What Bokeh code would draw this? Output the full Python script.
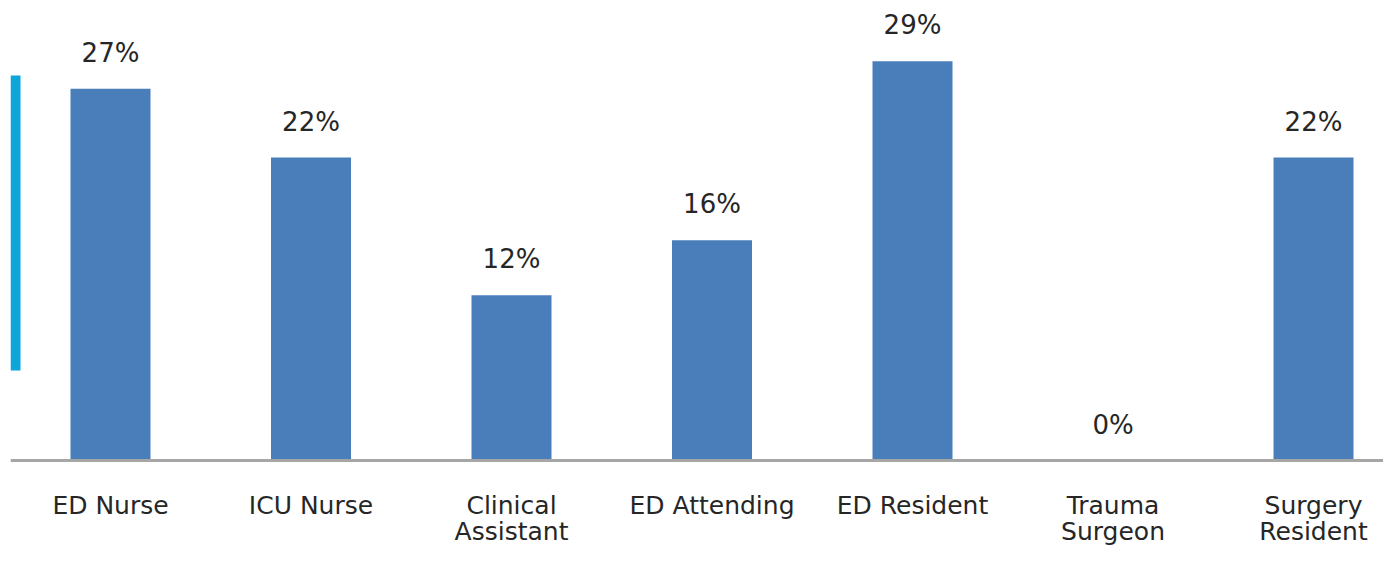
from bokeh.plotting import figure
from bokeh.models import Range1d, ColumnDataSource, Span, BoxAnnotation
from bokeh.core.properties import value
from bokeh.embed import file_html
from bokeh.resources import INLINE

categories = ["ED Nurse", "ICU Nurse", "Clinical\nAssistant", "ED Attending",
              "ED Resident", "Trauma\nSurgeon", "Surgery\nResident"]
percent_values = [27, 22, 12, 16, 29, 0, 22]
value_labels = ["27%", "22%", "12%", "16%", "29%", "0%", "22%"]

W, H = 1383, 548
PX_PER_UNIT = 13.77   # vertical pixels per percentage point
BASE_PX = 460         # canvas y of baseline
LEFT = 10             # frame left edge
STEP = 200.5          # pixels per category
X0 = 110              # pixel centre of first category

xs = list(range(len(categories)))
y_top = BASE_PX / PX_PER_UNIT
y_bot = -(H - BASE_PX) / PX_PER_UNIT

p = figure(width=W, height=H, output_backend="svg", toolbar_location=None,
           x_range=Range1d((LEFT - X0) / STEP, (W - X0) / STEP),
           y_range=Range1d(y_bot, y_top),
           min_border=0, min_border_left=LEFT, min_border_right=0,
           min_border_top=0, min_border_bottom=0)
p.axis.visible = False
p.grid.visible = False
p.outline_line_color = None
p.background_fill_color = "white"
p.border_fill_color = "white"

line1 = [c.split("\n")[0] for c in categories]
line2 = [c.split("\n")[1] if "\n" in c else "" for c in categories]

src = ColumnDataSource(dict(
    x=xs, top=percent_values, lab=value_labels, l1=line1, l2=line2,
    ly=[v + 36 / PX_PER_UNIT for v in percent_values],
))

p.vbar(x="x", top="top", bottom=0, width=80 / STEP, source=src,
       fill_color="#4A7EBB", line_color=None)

p.add_layout(Span(location=0, dimension="width", line_color="#A6A6A6", line_width=3))

font = value("DejaVu Sans")
p.text(x="x", y="ly", text="lab", source=src, text_align="center",
       text_baseline="alphabetic", text_font=font,
       text_font_size="26px", text_color="#262626")

p.text(x="x", y=-(505 - BASE_PX) / PX_PER_UNIT, text="l1", source=src,
       text_align="center", text_baseline="alphabetic", text_font=font,
       text_font_size="25px", text_color="#262626")
p.text(x="x", y=-(531 - BASE_PX) / PX_PER_UNIT, text="l2", source=src,
       text_align="center", text_baseline="alphabetic", text_font=font,
       text_font_size="25px", text_color="#262626")

p.add_layout(BoxAnnotation(left=0, right=10, top=H - 75, bottom=H - 370,
                           left_units="screen", right_units="screen",
                           top_units="screen", bottom_units="screen",
                           fill_color="#0EA5DB", fill_alpha=1.0, line_color=None))

open("out.html", "w").write(file_html(p, INLINE))
